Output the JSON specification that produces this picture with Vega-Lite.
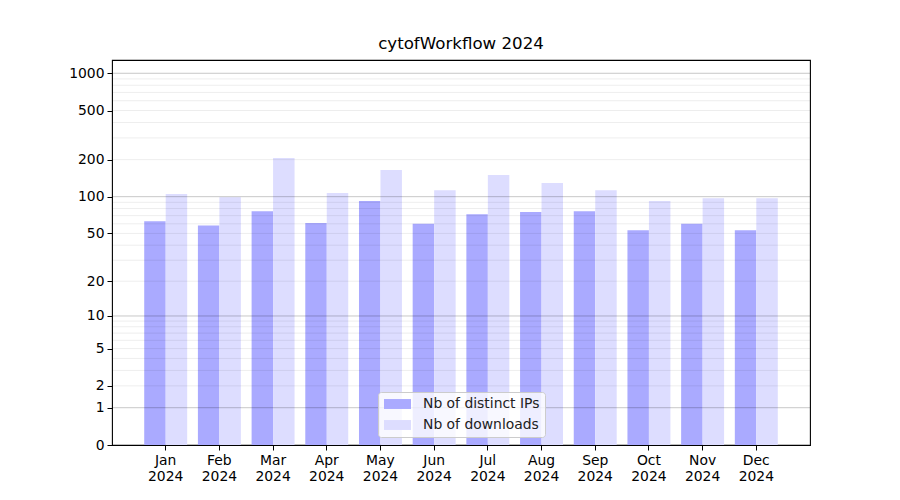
{
  "$schema": "https://vega.github.io/schema/vega-lite/v6.json",
  "autosize": {"type": "none"},
  "padding": {"left": 112, "top": 60, "right": 90, "bottom": 55},
  "width": 698,
  "height": 385,
  "background": "white",
  "title": {"text": "cytofWorkflow 2024", "font": "DejaVu Sans", "fontSize": 16.67, "fontWeight": "normal", "color": "black", "offset": 7, "anchor": "middle"},
  "config": {
    "view": {"stroke": "black", "strokeWidth": 1.1},
    "axis": {"labelFont": "DejaVu Sans", "labelFontSize": 13.9, "labelColor": "black", "tickColor": "black", "domainColor": "black", "tickSize": 5, "grid": false, "labelOverlap": false, "labelBound": false, "labelFlush": false}
  },
  "datasets": {
    "bars": [
      {"month": "Jan", "metric": "Nb of distinct IPs", "value": 63},
      {"month": "Jan", "metric": "Nb of downloads", "value": 105},
      {"month": "Feb", "metric": "Nb of distinct IPs", "value": 58},
      {"month": "Feb", "metric": "Nb of downloads", "value": 99},
      {"month": "Mar", "metric": "Nb of distinct IPs", "value": 76},
      {"month": "Mar", "metric": "Nb of downloads", "value": 206},
      {"month": "Apr", "metric": "Nb of distinct IPs", "value": 61},
      {"month": "Apr", "metric": "Nb of downloads", "value": 107},
      {"month": "May", "metric": "Nb of distinct IPs", "value": 92},
      {"month": "May", "metric": "Nb of downloads", "value": 165},
      {"month": "Jun", "metric": "Nb of distinct IPs", "value": 60},
      {"month": "Jun", "metric": "Nb of downloads", "value": 113},
      {"month": "Jul", "metric": "Nb of distinct IPs", "value": 72},
      {"month": "Jul", "metric": "Nb of downloads", "value": 150},
      {"month": "Aug", "metric": "Nb of distinct IPs", "value": 75},
      {"month": "Aug", "metric": "Nb of downloads", "value": 129},
      {"month": "Sep", "metric": "Nb of distinct IPs", "value": 76},
      {"month": "Sep", "metric": "Nb of downloads", "value": 113},
      {"month": "Oct", "metric": "Nb of distinct IPs", "value": 53},
      {"month": "Oct", "metric": "Nb of downloads", "value": 92},
      {"month": "Nov", "metric": "Nb of distinct IPs", "value": 60},
      {"month": "Nov", "metric": "Nb of downloads", "value": 97},
      {"month": "Dec", "metric": "Nb of distinct IPs", "value": 53},
      {"month": "Dec", "metric": "Nb of downloads", "value": 97}
    ],
    "grid": [
      {"value": 1, "kind": "major"}, {"value": 10, "kind": "major"}, {"value": 100, "kind": "major"}, {"value": 1000, "kind": "major"},
      {"value": 2, "kind": "minor"}, {"value": 3, "kind": "minor"}, {"value": 4, "kind": "minor"}, {"value": 5, "kind": "minor"},
      {"value": 6, "kind": "minor"}, {"value": 7, "kind": "minor"}, {"value": 8, "kind": "minor"}, {"value": 9, "kind": "minor"},
      {"value": 20, "kind": "minor"}, {"value": 30, "kind": "minor"}, {"value": 40, "kind": "minor"}, {"value": 50, "kind": "minor"},
      {"value": 60, "kind": "minor"}, {"value": 70, "kind": "minor"}, {"value": 80, "kind": "minor"}, {"value": 90, "kind": "minor"},
      {"value": 200, "kind": "minor"}, {"value": 300, "kind": "minor"}, {"value": 400, "kind": "minor"}, {"value": 500, "kind": "minor"},
      {"value": 600, "kind": "minor"}, {"value": 700, "kind": "minor"}, {"value": 800, "kind": "minor"}, {"value": 900, "kind": "minor"}
    ]
  },
  "layer": [
    {
      "data": {"name": "bars"},
      "mark": {"type": "bar"},
      "encoding": {
        "x": {
          "field": "month", "type": "nominal",
          "sort": ["Jan", "Feb", "Mar", "Apr", "May", "Jun", "Jul", "Aug", "Sep", "Oct", "Nov", "Dec"],
          "scale": {"paddingInner": 0.2, "paddingOuter": 0.6},
          "axis": {"title": null, "labelAngle": 0, "labelExpr": "[datum.label, '2024']", "labelLineHeight": 16, "labelPadding": 3, "domain": false}
        },
        "xOffset": {"field": "metric", "type": "nominal", "scale": {"paddingInner": 0, "paddingOuter": 0}},
        "y": {
          "field": "value", "type": "quantitative",
          "scale": {"type": "symlog", "constant": 1, "domain": [0, 1280], "nice": false, "zero": true},
          "axis": {"title": null, "values": [0, 1, 2, 5, 10, 20, 50, 100, 200, 500, 1000], "tickCount": 50, "labelExpr": "format(datum.value, 'd')", "labelOverlap": false, "labelSeparation": 0, "labelPadding": 3, "domain": false}
        },
        "color": {
          "field": "metric", "type": "nominal",
          "scale": {"domain": ["Nb of distinct IPs", "Nb of downloads"], "range": ["#aaaaff", "#ddddff"]},
          "legend": {
            "title": null, "orient": "none", "legendX": 266, "legendY": 332,
            "labelFont": "DejaVu Sans", "labelFontSize": 13.9, "labelColor": "#222222",
            "symbolType": "M-1.93,-0.71L1.93,-0.71L1.93,0.71L-1.93,0.71Z", "symbolSize": 196, "symbolOpacity": 1, "symbolStrokeWidth": 0,
            "symbolOffset": 7.5,
            "fillColor": "rgba(255,255,255,0.8)", "strokeColor": "#cccccc", "cornerRadius": 3,
            "padding": 5, "rowPadding": 7, "labelOffset": 18.5
          }
        }
      }
    },
    {
      "data": {"name": "grid"},
      "mark": {"type": "rule", "color": "black", "strokeWidth": 1},
      "encoding": {
        "y": {"field": "value", "type": "quantitative"},
        "strokeOpacity": {"field": "kind", "type": "nominal", "scale": {"domain": ["major", "minor"], "range": [0.22, 0.07]}, "legend": null}
      }
    }
  ]
}
